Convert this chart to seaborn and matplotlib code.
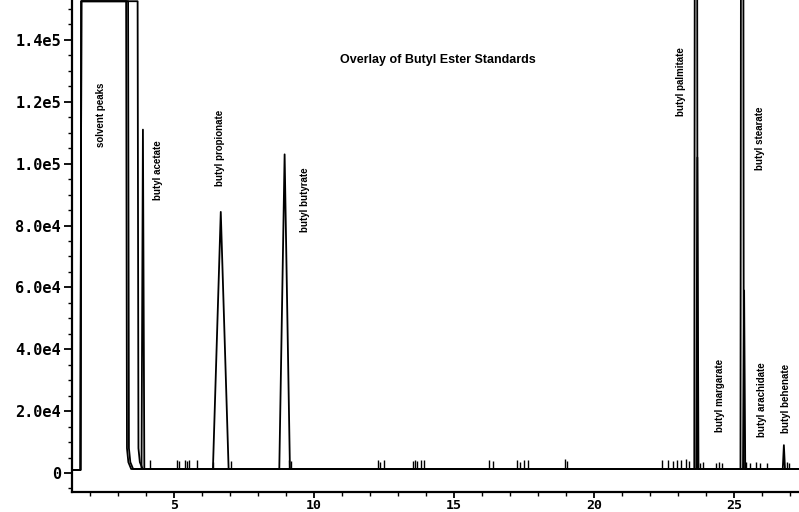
import numpy as np
import pandas as pd
import matplotlib
matplotlib.use("Agg")
import matplotlib.pyplot as plt
import seaborn as sns

# ---------------- data ----------------
trace_ids = ["A", "B", "C"]
start_baseline = 1000.0
baseline = 1300.0
solvent_rise = [1.66, 1.66, 1.66]
solvent_fall = [3.29, 3.36, 3.70]
solvent_level = 1.525e5          # detector saturated (flat top)

peak_trace = ["A", "A", "B", "B", "B", "C", "C", "C"]
peak_time = [3.89, 6.67, 8.95, 23.69, 25.36, 23.64, 25.29, 26.78]
peak_height = [1.11e5, 8.44e4, 1.03e5, 1.02e5, 5.9e4, 6.0e5, 6.0e5, 9000]
peak_halfwidth = [0.05, 0.28, 0.19, 0.04, 0.04, 0.06, 0.06, 0.04]

spike_time = [4.14, 5.11, 5.18, 5.39, 5.46, 5.54, 5.82, 6.39, 7.04, 9.11, 9.18,
              12.29, 12.36, 12.50, 13.54, 13.61, 13.68, 13.82, 13.93,
              16.25, 16.39, 17.25, 17.36, 17.50, 17.64, 18.96, 19.04,
              22.43, 22.64, 22.82, 22.96, 23.11, 23.29, 23.39, 23.79, 23.89,
              24.36, 24.46, 24.57, 25.43, 25.57, 25.79, 25.93, 26.18, 26.89, 26.96]
spike_height = [4300, 4200, 3800, 4300, 3900, 4100, 4200, 3500, 4000, 4200, 3900,
                4300, 3600, 4100, 3800, 4300, 3900, 4200, 4100,
                4300, 4000, 4300, 3700, 4100, 4200, 4500, 4000,
                4300, 4200, 4000, 4300, 4100, 4400, 4000, 3200, 3400,
                3300, 3500, 3300, 3600, 3300, 3500, 3300, 3200, 3600, 3300]

labels = ["solvent peaks", "butyl acetate", "butyl propionate", "butyl butyrate",
          "butyl palmitate", "butyl stearate", "butyl margarate",
          "butyl arachidate", "butyl behenate"]
label_time = [2.39, 4.43, 6.64, 9.68, 23.11, 25.93, 24.50, 26.00, 26.86]
label_signal = [115700, 97960, 105070, 88260, 126400, 108300, 25200, 23600, 24250]

y_ticks = [0, 2e4, 4e4, 6e4, 8e4, 1e5, 1.2e5, 1.4e5]
y_ticklabels = ["0", "2.0e4", "4.0e4", "6.0e4", "8.0e4", "1.0e5", "1.2e5", "1.4e5"]
x_ticks = [5, 10, 15, 20, 25]
x_ticklabels = ["5", "10", "15", "20", "25"]
title = "Overlay of Butyl Ester Standards"

t_min, t_max = 1.357, 27.32
y_min, y_max = -6140, 152900

# ---------------- build trace table ----------------
rows = []
for i, tr in enumerate(trace_ids):
    pts = [(t_min, start_baseline), (solvent_rise[i], start_baseline),
           (solvent_rise[i] + 0.03, solvent_level), (solvent_fall[i], solvent_level),
           (solvent_fall[i] + 0.03, 8000), (solvent_fall[i] + 0.08, 3500),
           (solvent_fall[i] + 0.18, baseline)]
    pk = sorted([(peak_time[j], peak_height[j], peak_halfwidth[j])
                 for j in range(len(peak_trace)) if peak_trace[j] == tr])
    for rt, h, hw in pk:
        pts += [(rt - hw, baseline), (rt, h), (rt + hw, baseline)]
    pts.append((t_max + 0.1, baseline))
    for k, (t, s) in enumerate(pts):
        rows.append({"trace": tr, "order": k, "time": t, "signal": s})
df = pd.DataFrame(rows)

# ---------------- plot ----------------
sns.set_style("ticks")
plt.rcParams["font.family"] = ["Liberation Sans", "DejaVu Sans"]

fig = plt.figure(figsize=(7.99, 5.12), dpi=100)
ax = fig.add_axes([72 / 799, 20 / 512, 1 - 72 / 799, 1 - 20 / 512])

sns.lineplot(data=df, x="time", y="signal", units="trace", estimator=None,
             sort=False, color="black", linewidth=1.3, ax=ax, legend=False)
ax.vlines(spike_time, baseline, spike_height, color="black", linewidth=1.0)

for lab, t, s in zip(labels, label_time, label_signal):
    ax.text(t, s, lab, rotation=90, ha="center", va="center",
            fontsize=7, fontweight="bold", color="black")

fig.text(437.5 / 799, 1 - 60 / 512, title, ha="center", va="center",
         fontsize=9, fontweight="bold", color="black")

ax.set_xlim(t_min, t_max)
ax.set_ylim(y_min, y_max)
ax.set_xticks(x_ticks)
ax.set_xticklabels(x_ticklabels)
ax.set_yticks(y_ticks)
ax.set_yticklabels(y_ticklabels)
ax.set_xticks(np.arange(2, 28, 1), minor=True)
ax.set_yticks(np.arange(-5000, 155000, 5000), minor=True)
ax.set_xlabel("")
ax.set_ylabel("")
for lab in ax.get_yticklabels():
    lab.set_fontfamily("DejaVu Sans Mono")
    lab.set_fontsize(11)
    lab.set_fontweight("bold")
for lab in ax.get_xticklabels():
    lab.set_fontfamily("DejaVu Sans Mono")
    lab.set_fontsize(9.5)
    lab.set_fontweight("bold")
ax.tick_params(axis="y", which="major", length=6, width=1.3, direction="out", pad=2, colors="black")
ax.tick_params(axis="x", which="major", length=4, width=1.3, direction="out", pad=1, colors="black")
ax.tick_params(axis="both", which="minor", length=3, width=1.0, direction="out", colors="black")

sns.despine(ax=ax, top=True, right=True)
for sp in ["left", "bottom"]:
    ax.spines[sp].set_linewidth(1.6)
    ax.spines[sp].set_color("black")

fig.savefig("out.png", dpi=100)
